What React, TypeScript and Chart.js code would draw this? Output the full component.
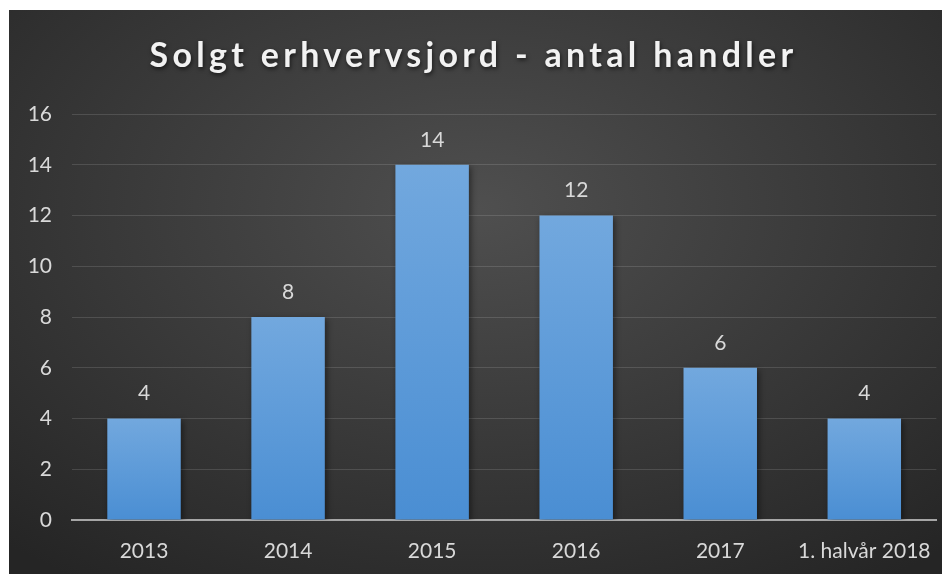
import React, { useEffect, useRef } from "react";
import { Chart, registerables } from "chart.js";

Chart.register(...registerables);

const titleText = "Solgt erhvervsjord - antal handler";
const categories = ["2013", "2014", "2015", "2016", "2017", "1. halvår 2018"];
const handler = [4, 8, 14, 12, 6, 4];
const yTicks = [0, 2, 4, 6, 8, 10, 12, 14, 16];

const FONT = "Lato, 'Open Sans', sans-serif";

export default function App() {
  const ref = useRef<HTMLCanvasElement | null>(null);

  useEffect(() => {
    if (!ref.current) return;

    const titlePlugin = {
      id: "customTitle",
      afterDraw(chart: any) {
        const ctx = chart.ctx;
        ctx.save();
        ctx.font = `700 34px ${FONT}`;
        (ctx as any).letterSpacing = "4.3px";
        ctx.fillStyle = "#f2f2f2";
        ctx.textAlign = "center";
        ctx.textBaseline = "alphabetic";
        ctx.shadowColor = "rgba(0,0,0,0.6)";
        ctx.shadowBlur = 4;
        ctx.shadowOffsetX = 1;
        ctx.shadowOffsetY = 2;
        ctx.fillText(titleText, chart.width / 2 - 6, 57);
        ctx.restore();
      },
    };

    const labelPlugin = {
      id: "valueLabels",
      afterDatasetsDraw(chart: any) {
        const ctx = chart.ctx;
        const meta = chart.getDatasetMeta(0);
        ctx.save();
        ctx.font = `400 21px ${FONT}`;
        ctx.fillStyle = "#d9d9d9";
        ctx.textAlign = "center";
        ctx.textBaseline = "middle";
        meta.data.forEach((bar: any, i: number) => {
          ctx.fillText(String(handler[i]), bar.x, bar.y - 25);
        });
        ctx.restore();
      },
    };

    const shadowPlugin = {
      id: "barShadow",
      beforeDatasetDraw(chart: any) {
        const ctx = chart.ctx;
        ctx.save();
        ctx.shadowColor = "rgba(0,0,0,0.45)";
        ctx.shadowBlur = 6;
        ctx.shadowOffsetX = 2;
        ctx.shadowOffsetY = 2;
      },
      afterDatasetDraw(chart: any) {
        chart.ctx.restore();
      },
    };

    const chart = new Chart(ref.current, {
      type: "bar",
      data: {
        labels: categories,
        datasets: [
          {
            data: handler,
            backgroundColor: (c: any) => {
              const chartObj = c.chart;
              const area = chartObj.chartArea;
              if (!area || c.raw === undefined) return "#5b9bd5";
              const ys = chartObj.scales.y;
              const top = ys.getPixelForValue(c.raw);
              const bottom = ys.getPixelForValue(0);
              const g = chartObj.ctx.createLinearGradient(0, top, 0, bottom);
              g.addColorStop(0, "#72a8de");
              g.addColorStop(1, "#4a8ed3");
              return g;
            },
            borderWidth: 0,
            categoryPercentage: 1,
            barPercentage: 0.51,
          },
        ],
      },
      options: {
        responsive: false,
        animation: false,
        layout: { padding: { top: 104, left: 0, right: 6, bottom: 0 } },
        plugins: {
          legend: { display: false },
          title: { display: false },
          tooltip: { enabled: false },
        },
        scales: {
          x: {
            grid: { display: false, drawTicks: false },
            border: { display: true, color: "#a6a6a6", width: 2 },
            ticks: {
              color: "#d9d9d9",
              font: { family: FONT, size: 21 },
              padding: 19,
              maxRotation: 0,
              autoSkip: false,
            },
            afterFit: (s: any) => {
              s.height = 56;
            },
          },
          y: {
            min: 0,
            max: 16,
            afterBuildTicks: (s: any) => {
              s.ticks = yTicks.map((v) => ({ value: v }));
            },
            grid: { color: "rgba(255,255,255,0.13)", lineWidth: 1, drawTicks: false },
            border: { display: false },
            ticks: {
              color: "#d9d9d9",
              font: { family: FONT, size: 21 },
              padding: 20,
            },
            afterFit: (s: any) => {
              s.width = 63;
            },
          },
        },
      },
      plugins: [shadowPlugin, labelPlugin, titlePlugin],
    } as any);

    return () => chart.destroy();
  }, []);

  return (
    <div
      style={{
        position: "relative",
        left: 1,
        top: 2,
        width: 941,
        height: 566,
        background:
          "radial-gradient(ellipse 75% 80% at 50% 35%, #4f4f4f 0%, #3c3c3c 45%, #252525 100%)",
      }}
    >
      <canvas ref={ref} width={941} height={566} style={{ display: "block" }} />
    </div>
  );
}
